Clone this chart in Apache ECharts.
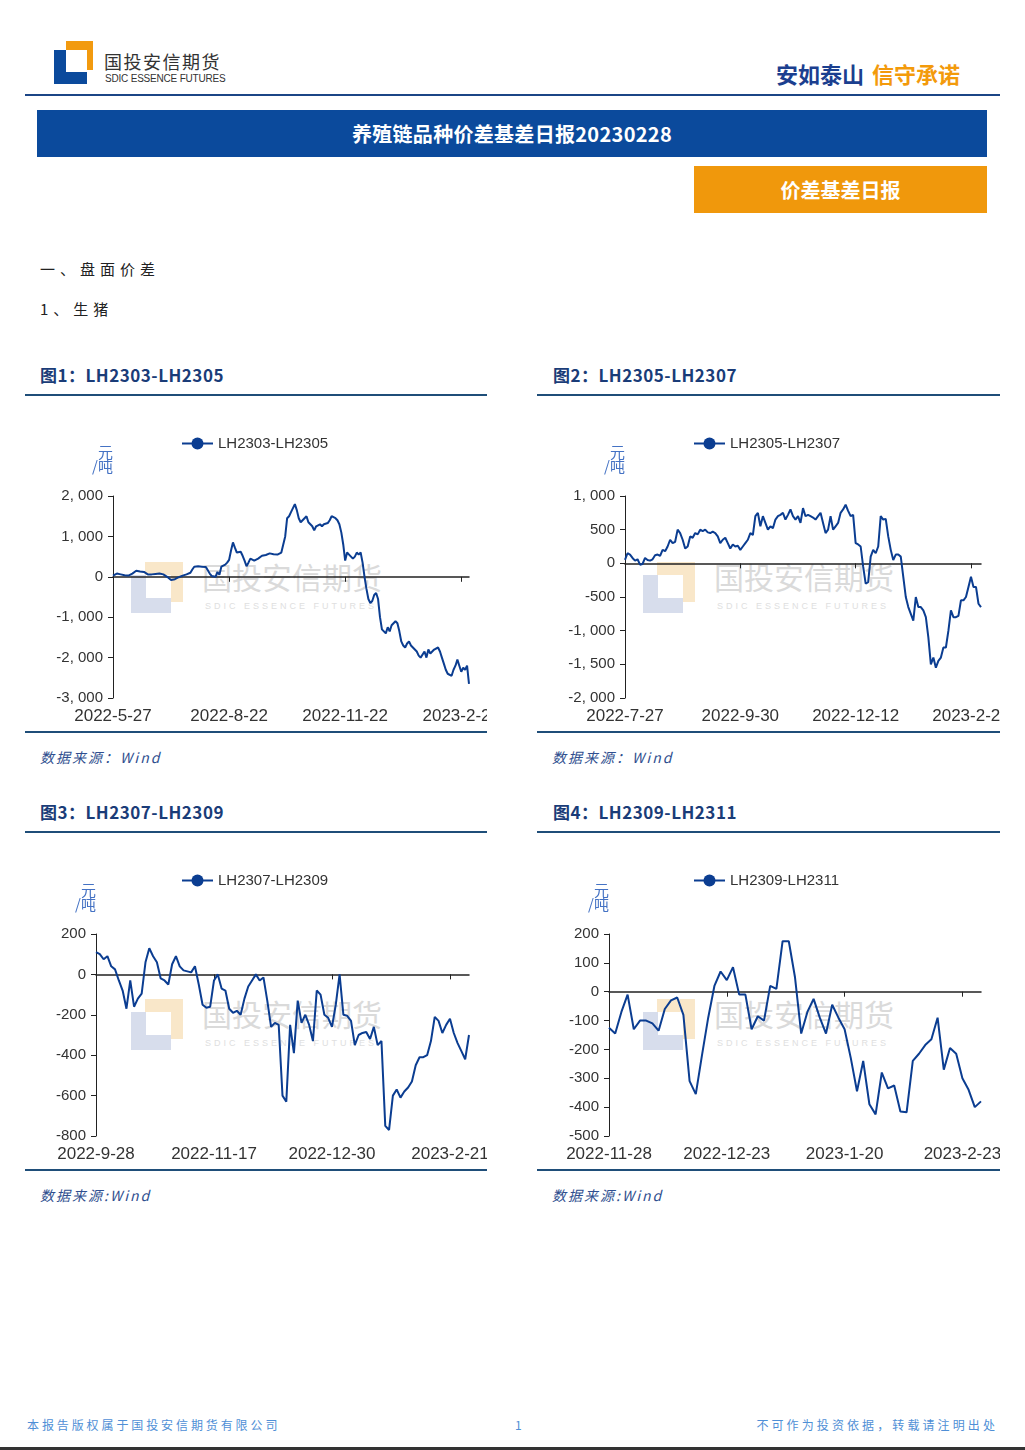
<!DOCTYPE html>
<html lang="zh-CN">
<head>
<meta charset="utf-8">
<title>养殖链品种价差基差日报20230228</title>
<script src="https://cdn.jsdelivr.net/npm/echarts@6/dist/echarts.min.js"></script>
<style>
  html, body { margin: 0; padding: 0; background: #fff; }
  .page { position: relative; width: 1025px; height: 1450px; overflow: hidden; font-family: "Noto Sans CJK SC", "Noto Sans", sans-serif; }
  .abs { position: absolute; }
  .logo-or { background: #f29a0f; }
  .logo-bl { background: #0b4a9c; }
  .logo-wh { background: #fff; }
  .brand { left: 104px; top: 51px; font-size: 18px; color: #333; letter-spacing: 1.5px; line-height: 20px; }
  .brand-en { left: 105px; top: 73px; font-size: 10px; color: #333; font-family: "Liberation Sans Narrow", "Liberation Sans", sans-serif; letter-spacing: -0.2px; line-height: 11px; }
  .slogan { left: 776px; top: 60px; font-size: 22px; font-weight: 700; line-height: 27px; }
  .slogan .a { color: #1b3f8f; }
  .slogan .b { color: #f39a0b; margin-left: 8px; }
  .rule { left: 25px; top: 94px; width: 975px; height: 2px; background: #1b4586; }
  .banner { left: 37px; top: 110px; width: 950px; height: 47px; background: #0b4a9c; color: #fff; font-size: 20px; font-weight: 700; line-height: 47px; text-align: center; letter-spacing: 0.3px; }
  .tag { left: 694px; top: 166px; width: 293px; height: 47px; background: #f0980c; color: #fff; font-size: 20px; font-weight: 700; line-height: 47px; text-align: center; }
  .h1 { left: 40px; font-size: 15px; color: #222; letter-spacing: 5px; line-height: 20px; }
  .ttl { font-size: 17px; font-weight: 700; color: #1a3c78; line-height: 20px; letter-spacing: 0.5px; }
  .uline { height: 2px; background: #1f4e79; }
  .src { font-size: 14px; font-style: italic; color: #2f4f8f; letter-spacing: 2px; line-height: 18px; }
  .foot { top: 1417px; font-size: 12px; color: #4f8fd6; letter-spacing: 2.9px; line-height: 16px; }
  .wm { pointer-events: none; }
  .wm .o { position: absolute; background: #f9e7c9; }
  .wm .b { position: absolute; background: #d7ddec; }
  .wm .w { position: absolute; background: #fff; }
  .wm .t { position: absolute; font-size: 30px; color: #dadada; line-height: 32px; white-space: nowrap; }
  .wm .s { position: absolute; font-size: 9px; color: #e0e0e0; letter-spacing: 3px; line-height: 12px; white-space: nowrap; font-family: "Liberation Sans", sans-serif; }
  .chart { position: absolute; width: 462px; height: 310px; }
</style>
</head>
<body>
<div class="page">
  <!-- header -->
  <div class="abs logo-or" style="left:66px;top:41px;width:27px;height:29px"></div>
  <div class="abs logo-bl" style="left:54px;top:50px;width:33px;height:34px"></div>
  <div class="abs logo-wh" style="left:66px;top:50px;width:21px;height:22px"></div>
  <div class="abs brand">国投安信期货</div>
  <div class="abs brand-en">SDIC ESSENCE FUTURES</div>
  <div class="abs slogan"><span class="a">安如泰山</span><span class="b">信守承诺</span></div>
  <div class="abs rule"></div>
  <div class="abs banner">养殖链品种价差基差日报20230228</div>
  <div class="abs tag">价差基差日报</div>

  <div class="abs h1" style="top:259px">一、盘面价差</div>
  <div class="abs h1" style="top:299px">1、生猪</div>

  <!-- row 1 -->
  <div class="abs ttl" style="left:40px;top:365px">图1：LH2303-LH2305</div>
  <div class="abs ttl" style="left:553px;top:365px">图2：LH2305-LH2307</div>
  <div class="abs uline" style="left:25px;top:394px;width:462px"></div>
  <div class="abs uline" style="left:537px;top:394px;width:463px"></div>

  <div id="wm1" class="abs wm" style="left:25px;top:420px"></div>
  <div id="wm2" class="abs wm" style="left:537px;top:420px"></div>
  <div id="c1" class="chart" style="left:25px;top:420px"></div>
  <div id="c2" class="chart" style="left:537px;top:420px;width:463px"></div>

  <div class="abs uline" style="left:25px;top:731px;width:462px"></div>
  <div class="abs uline" style="left:537px;top:731px;width:463px"></div>
  <div class="abs src" style="left:40px;top:748px">数据来源：Wind</div>
  <div class="abs src" style="left:552px;top:748px">数据来源：Wind</div>

  <!-- row 2 -->
  <div class="abs ttl" style="left:40px;top:802px">图3：LH2307-LH2309</div>
  <div class="abs ttl" style="left:553px;top:802px">图4：LH2309-LH2311</div>
  <div class="abs uline" style="left:25px;top:831px;width:462px"></div>
  <div class="abs uline" style="left:537px;top:831px;width:463px"></div>

  <div id="wm3" class="abs wm" style="left:25px;top:857px"></div>
  <div id="wm4" class="abs wm" style="left:537px;top:857px"></div>
  <div id="c3" class="chart" style="left:25px;top:860px"></div>
  <div id="c4" class="chart" style="left:537px;top:860px;width:463px"></div>

  <div class="abs uline" style="left:25px;top:1169px;width:462px"></div>
  <div class="abs uline" style="left:537px;top:1169px;width:463px"></div>
  <div class="abs src" style="left:40px;top:1186px">数据来源:Wind</div>
  <div class="abs src" style="left:552px;top:1186px">数据来源:Wind</div>

  <!-- footer -->
  <div class="abs foot" style="left:27px">本报告版权属于国投安信期货有限公司</div>
  <div class="abs foot" style="left:515px">1</div>
  <div class="abs foot" style="right:27px;letter-spacing:3.1px">不可作为投资依据，转载请注明出处</div>
  <div class="abs" style="left:0;top:1447px;width:1025px;height:3px;background:#333"></div>
</div>

<script>
// exchange holidays (weekdays) inside the plotted range
const holidays = [
  '2022-06-03', '2022-09-12',
  '2022-10-03', '2022-10-04', '2022-10-05', '2022-10-06', '2022-10-07',
  '2023-01-02', '2023-01-23', '2023-01-24', '2023-01-25', '2023-01-26', '2023-01-27',
]

const lastDay = '2023-02-28'

// LH2303-LH2305, 2022-5-27 .. 2023-2-28 (元/吨)
const lh2303_2305 = [
  30, 50, 80, 110, 60, 70, 40, 60, 30, 50,
  80, 120, 150, 140, 130, 150, 120, 110, 60, 70,
  60, 80, 70, 50, 80, 70, 60, 30, 0, -40,
  -80, -50, -60, -30, -10, 0, 30, 10, 60, 50,
  100, 180, 250, 270, 260, 280, 250, 260, 240, 220,
  80, 20, 50, 0, 120, 50, 250, 280, 300, 350,
  420, 650, 850, 720, 600, 580, 620, 520, 400, 260,
  350, 450, 420, 400, 430, 450, 480, 520, 500, 540,
  560, 580, 540, 560, 570, 550, 580, 600, 620, 1000,
  1450, 1500, 1600, 1700, 1800, 1650, 1450, 1350, 1400, 1420,
  1500, 1350, 1300, 1250, 1150, 1250, 1250, 1300, 1250, 1300,
  1320, 1330, 1400, 1500, 1480, 1450, 1400, 1300, 1100, 800,
  400, 600, 550, 500, 450, 500, 600, 550, 600, 350,
  0, -300, -550, -650, -600, -450, -400, -550, -1000, -1300,
  -1350, -1400, -1250, -1350, -1200, -1150, -1100, -1150, -1350, -1600,
  -1700, -1750, -1650, -1600, -1700, -1750, -1800, -1850, -1950, -2000,
  -2000, -1850, -2000, -1800, -1900, -1850, -1800, -1800, -1750, -1850,
  -2000, -2150, -2300, -2400, -2400, -2450, -2300, -2200, -2050, -2200,
  -2350, -2250, -2300, -2200, -2650,
]

// LH2305-LH2307, 2022-7-27 .. 2023-2-28
const lh2305_2307 = [
  50, 150, 130, 80, 40, 60, -20, -10, 80, 50,
  40, 60, 120, 130, 110, 200, 180, 250, 350, 300,
  320, 500, 450, 350, 220, 250, 400, 380, 450, 430,
  500, 480, 500, 460, 450, 470, 450, 400, 300, 350,
  380, 300, 220, 280, 250, 260, 200, 250, 300, 350,
  450, 420, 700, 750, 550, 700, 600, 500, 550, 520,
  650, 700, 720, 750, 650, 720, 800, 700, 650, 700,
  600, 820, 700, 720, 700, 680, 650, 700, 750, 600,
  450, 500, 700, 500, 550, 600, 750, 800, 870, 780,
  700, 720, 300, 280, 250, -50, -300, -280, 100, 200,
  150, 250, 700, 650, 660, 400, 200, 50, 130, 130,
  100, -200, -500, -650, -750, -850, -500, -650, -650, -700,
  -800, -1100, -1500, -1400, -1550, -1450, -1400, -1250, -1250, -1000,
  -700, -800, -800, -780, -550, -550, -500, -350, -200, -350,
  -350, -600, -650,
]

// LH2307-LH2309, 2022-9-28 .. 2023-2-28
const lh2307_2309 = [
  110, 100, 75, 90, 40, 25, -30, -80, -170, -30,
  -160, -120, -95, 60, 130, 90, 60, -20, -30, -50,
  50, 90, 40, 20, 15, 10, 40, -50, -150, -165,
  -160, -30, 0, -70, -80, -170, -190, -180, -200, -120,
  -60, -30, 0, -30, -15, -130, -260, -240, -250, -600,
  -630, -250, -390, -130, -240, -200, -250, -330, -80, -100,
  -200, -215, -260, -150, 0, -200, -205, -230, -350, -300,
  -290, -285, -320, -260, -350, -330, -750, -770, -600, -570,
  -610, -580, -560, -530, -450, -410, -410, -400, -330, -210,
  -230, -290, -250, -220, -290, -340, -380, -420, -300,
]

// LH2309-LH2311, 2022-11-28 .. 2023-2-28
const lh2309_2311 = [
  -125, -145, -70, -10, -130, -100, -100, -110, -135, -60,
  -30, -20, -80, -310, -355, -220, -90, 20, 70, 40,
  85, -10, -10, -130, -85, -100, 20, 10, 175, 175,
  50, -145, -70, -25, -90, -145, -45, -90, -130, -230,
  -345, -240, -390, -425, -280, -335, -325, -415, -418, -240,
  -215, -185, -165, -90, -270, -195, -215, -300, -340, -400,
  -380,
]

// y-axis ticks (min, max, step) per chart
const yTicks1 = [-3000, 2000, 1000]
const yTicks2 = [-2000, 1000, 500]
const yTicks3 = [-800, 200, 200]
const yTicks4 = [-500, 200, 100]

function tradingDays(start, end) {
  const out = []
  const d = new Date(start + 'T00:00:00Z')
  const e = new Date(end + 'T00:00:00Z')
  while (d <= e) {
    const wd = d.getUTCDay()
    const iso = d.toISOString().slice(0, 10)
    if (wd !== 0 && wd !== 6 && !holidays.includes(iso)) {
      out.push(`${d.getUTCFullYear()}-${d.getUTCMonth() + 1}-${d.getUTCDate()}`)
    }
    d.setUTCDate(d.getUTCDate() + 1)
  }
  return out
}

function fmtNum(v) {
  return v.toLocaleString('en-US').replace(',', ', ')
}

const LINE = '#0b3d91'
const AXIS = '#222'
const LABEL = '#333'

function buildOption(cfg) {
  const [ymin, ymax, ystep] = cfg.yTicks
  return {
    animation: false,
    textStyle: { fontFamily: '"Liberation Sans", Arial, sans-serif' },
    legend: {
      data: [cfg.name],
      left: 151,
      top: cfg.legendTop,
      itemWidth: 31,
      itemHeight: 15,
      textStyle: { fontSize: 15, color: LABEL },
    },
    grid: { ...cfg.grid, outerBoundsMode: 'none' },
    xAxis: [
      {
        // labels, kept low at the bottom of the plot
        type: 'category',
        data: cfg.dates,
        boundaryGap: false,
        position: 'bottom',
        axisLine: { show: false, onZero: false },
        axisTick: { show: false },
        axisLabel: { interval: cfg.step - 1, fontSize: 17, color: LABEL, margin: 10, hideOverlap: false },
        splitLine: { show: false },
      },
      {
        // the zero line with its ticks
        type: 'category',
        data: cfg.dates,
        boundaryGap: false,
        position: 'top',
        axisLine: { onZero: true, lineStyle: { color: AXIS, width: 1.5 } },
        axisTick: { show: true, inside: true, interval: cfg.step - 1, length: 5, lineStyle: { color: AXIS } },
        axisLabel: { show: false },
        splitLine: { show: false },
      },
    ],
    yAxis: {
      type: 'value',
      min: ymin,
      max: ymax,
      interval: ystep,
      name: '元\n/吨',
      nameLocation: 'end',
      nameGap: 23,
      nameTextStyle: {
        align: 'right', verticalAlign: 'bottom', fontSize: 15, lineHeight: 14,
        color: '#4472c4', fontFamily: '"Noto Sans CJK SC", sans-serif',
      },
      axisLine: { show: true, lineStyle: { color: AXIS, width: 1 } },
      axisTick: { show: true, length: 5, lineStyle: { color: AXIS } },
      axisLabel: { fontSize: 15, color: LABEL, margin: 10, formatter: fmtNum },
      splitLine: { show: false },
    },
    series: [
      {
        name: cfg.name,
        type: 'line',
        xAxisIndex: 0,
        data: cfg.values,
        symbol: 'circle',
        showSymbol: false,
        color: LINE,
        lineStyle: { width: 2, color: LINE },
        itemStyle: { color: LINE },
        z: 5,
      },
    ],
  }
}

function watermark(id) {
  const el = document.getElementById(id)
  el.innerHTML =
    '<div class="o" style="left:120px;top:142px;width:38px;height:40px"></div>' +
    '<div class="b" style="left:106px;top:155px;width:40px;height:38px"></div>' +
    '<div class="w" style="left:121px;top:155px;width:25px;height:23px"></div>' +
    '<div class="t" style="left:177px;top:140px">国投安信期货</div>' +
    '<div class="s" style="left:180px;top:180px">SDIC ESSENCE FUTURES</div>'
}

const charts = [
  { id: 'c1', wm: 'wm1', name: 'LH2303-LH2305', start: '2022-05-27', step: 60, values: lh2303_2305, yTicks: yTicks1,
    legendTop: 11, grid: { left: 88, right: 18, top: 76, bottom: 32 } },
  { id: 'c2', wm: 'wm2', name: 'LH2305-LH2307', start: '2022-07-27', step: 46, values: lh2305_2307, yTicks: yTicks2,
    legendTop: 11, grid: { left: 88, right: 19, top: 76, bottom: 32 } },
  { id: 'c3', wm: 'wm3', name: 'LH2307-LH2309', start: '2022-09-28', step: 31, values: lh2307_2309, yTicks: yTicks3,
    legendTop: 8, grid: { left: 71, right: 18, top: 74, bottom: 34 } },
  { id: 'c4', wm: 'wm4', name: 'LH2309-LH2311', start: '2022-11-28', step: 19, values: lh2309_2311, yTicks: yTicks4,
    legendTop: 8, grid: { left: 72, right: 19, top: 74, bottom: 34 } },
]

charts.forEach((cfg) => {
  watermark(cfg.wm)
  cfg.dates = tradingDays(cfg.start, lastDay)
  if (cfg.dates.length !== cfg.values.length) {
    console.warn(cfg.name, 'dates', cfg.dates.length, 'values', cfg.values.length)
  }
  const chart = echarts.init(document.getElementById(cfg.id), null, { renderer: 'canvas' })
  chart.setOption(buildOption(cfg))
})
</script>
</body>
</html>
